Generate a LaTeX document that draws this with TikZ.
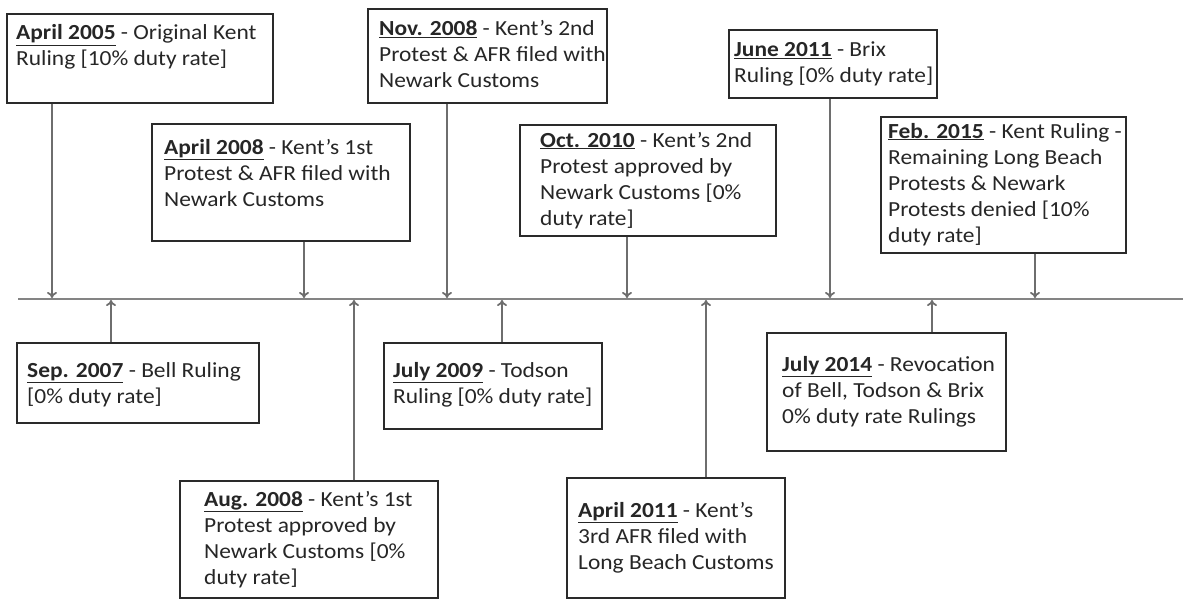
\documentclass[tikz,border=0pt]{standalone}
\usepackage{fontspec}
\setmainfont{Carlito}[FakeStretch=1.09]
\usetikzlibrary{fit,arrows.meta}
\newcommand\uld[1]{\underline{\textbf{#1}}}
\newcommand\apo{\char"0027\relax}
\definecolor{linegray}{HTML}{6E6E6E}
\definecolor{boxline}{HTML}{2A2A2A}
\definecolor{txtcol}{HTML}{262626}
\tikzset{
  box/.style={draw=boxline, line width=1.3pt, inner sep=0pt, rectangle},
  txt/.style={inner sep=0pt, align=left, anchor=base west, text=txtcol, font=\fontsize{21.5}{26}\selectfont},
  arr/.style={draw=linegray, line width=1.8pt, -{To[length=6pt,width=10pt]}},
  tl/.style={draw=linegray!85, line width=2.6pt}
}
\begin{document}
\begin{tikzpicture}[x=1pt,y=-1pt]
\useasboundingbox (0,0) rectangle (1183,599);
% timeline
\coordinate (L) at (18,299);
\coordinate (R) at (1183,299);
\draw[tl] (L) -- (R);
% timeline points
\coordinate (t1) at (52,298);
\coordinate (t2) at (304,298);
\coordinate (t3) at (447,298);
\coordinate (t4) at (627,298);
\coordinate (t5) at (830,298);
\coordinate (t6) at (1035,298);
\coordinate (t7) at (111,300);
\coordinate (t8) at (354,300);
\coordinate (t9) at (502,300);
\coordinate (t10) at (706,300);
\coordinate (t11) at (932,300);
% boxes
\node[box, fit={(7,14) (273,103)}] (b1) {};
\node[box, fit={(152,124) (410,241)}] (b2) {};
\node[box, fit={(368,9) (607,103)}] (b3) {};
\node[box, fit={(520,125) (776,236)}] (b4) {};
\node[box, fit={(729,30) (937,98)}] (b5) {};
\node[box, fit={(881,117) (1126,253)}] (b6) {};
\node[box, fit={(17,343) (259,423)}] (b7) {};
\node[box, fit={(180,481) (438,598)}] (b8) {};
\node[box, fit={(384,343) (602,429)}] (b9) {};
\node[box, fit={(567,478) (785,598)}] (b10) {};
\node[box, fit={(767,333) (1006,451)}] (b11) {};
% texts (anchored at the baseline of the last line)
\node[txt] (x1) at (16,66) {\uld{April 2005} - Original Kent\\Ruling [10\% duty rate]};
\node[txt] (x2) at (164,206) {\uld{April 2008} - Kent\apo s 1st\\Protest \& AFR filed with\\Newark Customs};
\node[txt] (x3) at (379,88) {\uld{Nov. 2008} - Kent\apo s 2nd\\Protest \& AFR filed with\\Newark Customs};
\node[txt] (x4) at (540,225) {\uld{Oct. 2010} - Kent\apo s 2nd\\Protest approved by\\Newark Customs [0\%\\duty rate]};
\node[txt] (x5) at (734,83) {\uld{June 2011} - Brix\\Ruling [0\% duty rate]};
\node[txt] (x6) at (888,242) {\uld{Feb. 2015} - Kent Ruling -\\Remaining Long Beach\\Protests \& Newark\\Protests denied [10\%\\duty rate]};
\node[txt] (x7) at (27,403) {\uld{Sep. 2007} - Bell Ruling\\{}[0\% duty rate]};
\node[txt] (x8) at (204,584) {\uld{Aug. 2008} - Kent\apo s 1st\\Protest approved by\\Newark Customs [0\%\\duty rate]};
\node[txt] (x9) at (393,403) {\uld{July 2009} - Todson\\Ruling [0\% duty rate]};
\node[txt] (x10) at (578,569) {\uld{April 2011} - Kent\apo s\\3rd AFR filed with\\Long Beach Customs};
\node[txt] (x11) at (782,423) {\uld{July 2014} - Revocation\\of Bell, Todson \& Brix\\0\% duty rate Rulings};
% connectors
\draw[arr] (b1.south -| t1) -- (t1);
\draw[arr] (b2.south -| t2) -- (t2);
\draw[arr] (b3.south -| t3) -- (t3);
\draw[arr] (b4.south -| t4) -- (t4);
\draw[arr] (b5.south -| t5) -- (t5);
\draw[arr] (b6.south -| t6) -- (t6);
\draw[arr] (b7.north -| t7) -- (t7);
\draw[arr] (b8.north -| t8) -- (t8);
\draw[arr] (b9.north -| t9) -- (t9);
\draw[arr] (b10.north -| t10) -- (t10);
\draw[arr] (b11.north -| t11) -- (t11);
\end{tikzpicture}
\end{document}
